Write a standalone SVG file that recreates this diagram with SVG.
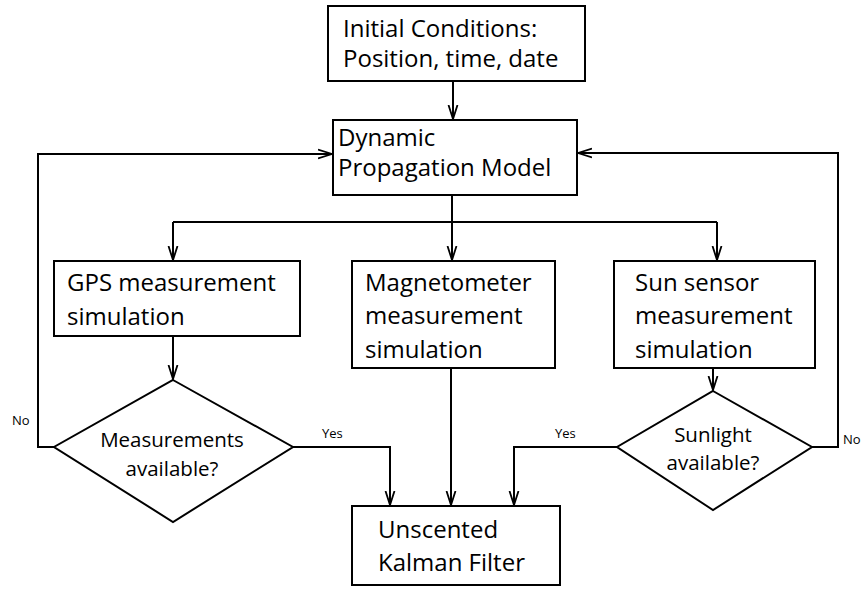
<svg xmlns="http://www.w3.org/2000/svg" width="862" height="589" viewBox="0 0 862 589">
<style>
.box{fill:#fff;stroke:#000;stroke-width:2}
.t{font-family:"Open Sans","Liberation Sans",Arial,sans-serif;font-size:24px;fill:#000}
.d{font-family:"Open Sans","Liberation Sans",Arial,sans-serif;font-size:20.5px;fill:#000;text-anchor:middle}
.s{font-family:"Open Sans","Liberation Sans",Arial,sans-serif;font-size:13px;fill:#000}
.c{fill:none;stroke:#000;stroke-width:2}
</style>
<defs>
<marker id="ah" markerUnits="userSpaceOnUse" markerWidth="16" markerHeight="12" refX="14" refY="6" orient="auto">
<path d="M0,1.5 L14,6 L0,10.5" fill="none" stroke="#000" stroke-width="1.8"/>
</marker>
</defs>
<rect width="862" height="589" fill="#fff"/>
<g id="connectors">
<path class="c" d="M453,81 V119" marker-end="url(#ah)"/>
<path class="c" d="M54,447 H38 V154 H332" marker-end="url(#ah)"/>
<path class="c" d="M812,447 H838 V153 H578" marker-end="url(#ah)"/>
<path class="c" d="M452,195 V260" marker-end="url(#ah)"/>
<path class="c" d="M173,222 H717"/>
<path class="c" d="M173,222 V260" marker-end="url(#ah)"/>
<path class="c" d="M717,222 V260" marker-end="url(#ah)"/>
<path class="c" d="M173,336 V379" marker-end="url(#ah)"/>
<path class="c" d="M451,368 V505" marker-end="url(#ah)"/>
<path class="c" d="M713,368 V390" marker-end="url(#ah)"/>
<path class="c" d="M293,447 H390 V505" marker-end="url(#ah)"/>
<path class="c" d="M617,447 H514 V505" marker-end="url(#ah)"/>
<text class="s" x="12" y="425">No</text>
<text class="s" x="322" y="438">Yes</text>
<text class="s" x="555" y="438">Yes</text>
<text class="s" x="843" y="444">No</text>
</g>
<g id="initial">
<rect class="box" x="328" y="6" width="257" height="75"/>
<text class="t" x="343" y="37">Initial Conditions:</text>
<text class="t" x="343" y="67">Position, time, date</text>
</g>
<g id="dynamic">
<rect class="box" x="333" y="120" width="244" height="75"/>
<text class="t" x="338" y="146">Dynamic</text>
<text class="t" x="338" y="176">Propagation Model</text>
</g>
<g id="gps">
<rect class="box" x="54" y="261" width="246" height="75"/>
<text class="t" x="67" y="291">GPS measurement</text>
<text class="t" x="67" y="325">simulation</text>
</g>
<g id="magnetometer">
<rect class="box" x="352" y="261" width="203" height="107"/>
<text class="t" x="365" y="291">Magnetometer</text>
<text class="t" x="365" y="324">measurement</text>
<text class="t" x="365" y="358">simulation</text>
</g>
<g id="sun">
<rect class="box" x="614" y="261" width="201" height="107"/>
<text class="t" x="635" y="291">Sun sensor</text>
<text class="t" x="635" y="324">measurement</text>
<text class="t" x="635" y="358">simulation</text>
</g>
<g id="gps-decision">
<polygon class="box" points="173,380 293,447 173,522 54,447"/>
<text class="d" x="172" y="447">Measurements</text>
<text class="d" x="172" y="476">available?</text>
</g>
<g id="sun-decision">
<polygon class="box" points="713,391 812,447 713,510 617,447"/>
<text class="d" x="713" y="442">Sunlight</text>
<text class="d" x="713" y="470">available?</text>
</g>
<g id="kalman">
<rect class="box" x="352" y="506" width="208" height="79"/>
<text class="t" x="378" y="538">Unscented</text>
<text class="t" x="378" y="571">Kalman Filter</text>
</g>
</svg>
